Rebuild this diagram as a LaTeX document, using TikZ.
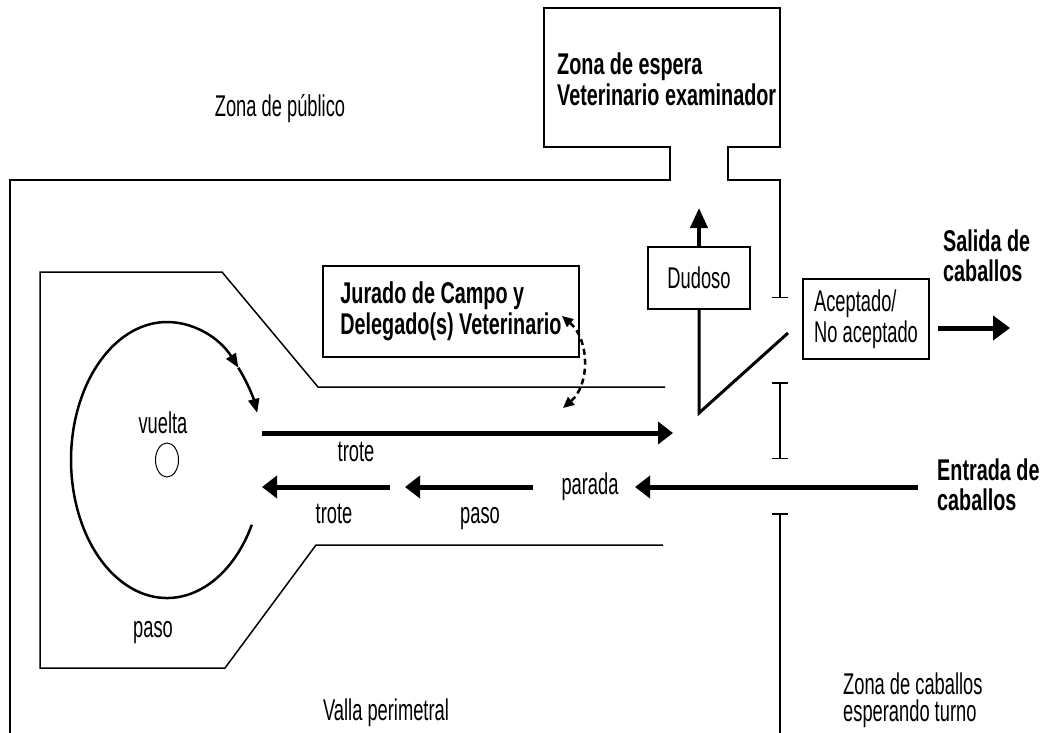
\documentclass[tikz,border=0pt]{standalone}
\usepackage{fontspec}
\setmainfont{Liberation Sans}[FakeStretch=0.61]
\newfontfamily\headfont{Liberation Sans}[FakeStretch=0.66]
\usetikzlibrary{arrows.meta,shapes.geometric}

\newcommand{\lblsize}{\fontsize{30}{31}\selectfont}
\newcommand{\hdrsize}{\headfont\bfseries\fontsize{30}{31}\selectfont}

\tikzset{
  wall/.style={line width=1.5pt},
  flow/.style={line width=5pt, -{Triangle[length=15pt,width=22pt]}},
  lap/.style={line width=2.5pt, -{Triangle[length=14pt,width=11pt]}},
  boxnode/.style={draw, line width=1.5pt, inner sep=0pt},
  lbl/.style={inner sep=0pt, font=\lblsize},
  hdr/.style={inner sep=0pt, align=left, font=\hdrsize},
}

\begin{document}
\begin{tikzpicture}[x=1pt, y=-1pt, >=Triangle]
    \useasboundingbox (0,0) rectangle (1046,733);

    % perimeter fence and waiting zone
    \draw[wall, -{Bar[width=16pt]}] (10,733) -- (10,180) -- (670,180) -- (670,147) -- (544,147)
        -- (544,8) -- (780,8) -- (780,147) -- (728,147) -- (728,180) -- (780,180) -- (780,298);
    \draw[wall, {Bar[width=16pt]}-{Bar[width=16pt]}] (780,382) -- (780,459);
    \draw[wall, {Bar[width=16pt]}-] (780,513) -- (780,733);

    % inspection lane
    \draw[wall] (665,387) -- (318,387) -- (222,272) -- (40,272) -- (40,668) -- (225,668) -- (316,545) -- (663,545);

    % boxes
    \node[boxnode, lbl, minimum width=102pt, minimum height=62pt] (dud) at (699,278) {Dudoso};
    \node[boxnode, lbl, align=left, minimum width=126pt, minimum height=80pt] (acc) at (866,319) {Aceptado/\\No aceptado};
    \node[boxnode, hdr, minimum width=256pt, minimum height=91pt] (jur) at (451,311.5) {Jurado de Campo y\\Delegado(s) Veterinario};
    \node[hdr, anchor=west] (wait) at (557,79.5) {Zona de espera\\Veterinario examinador};
    \node[hdr, anchor=west, font=\headfont\bfseries\fontsize{30}{30}\selectfont] (exit) at (943,256) {Salida de\\caballos};
    \node[hdr, anchor=west, font=\headfont\bfseries\fontsize{30}{30}\selectfont] (entry) at (937,485) {Entrada de\\caballos};

    % free labels
    \node[lbl, anchor=base] (pub) at (280,117) {Zona de público};
    \node[lbl, anchor=base] (fence) at (386,720) {Valla perimetral};
    \node[lbl, anchor=west, align=left, font=\fontsize{30}{27}\selectfont] (queue) at (843,700) {Zona de caballos\\esperando turno};
    \node[lbl, anchor=base] (vuelta) at (163,433) {vuelta};
    \node[lbl, anchor=base] (lap) at (153,637) {paso};
    \node[lbl, anchor=base] (trot1) at (356,461) {trote};
    \node[lbl, anchor=base] (trot2) at (334,523) {trote};
    \node[lbl, anchor=base] (walk) at (480,523) {paso};
    \node[lbl, anchor=base] (stop) at (590,494) {parada};
    \node[draw, ellipse, line width=1pt, inner sep=0pt, minimum width=23pt, minimum height=34pt] (pole) at (167,460) {};

    % arrow ends
    \coordinate (t1a) at (262,433);
    \coordinate (t1b) at (673,433);
    \coordinate (inA) at (918,487);
    \coordinate (inB) at (635,487);
    \coordinate (wA) at (533,487);
    \coordinate (wB) at (405,487);
    \coordinate (t2a) at (390,487);
    \coordinate (t2b) at (262,487);
    \coordinate (dudtip) at (699,208);
    \coordinate (gate1) at (699,413);
    \coordinate (gate2) at (788,333);
    \coordinate (outA) at (938,328);
    \coordinate (outB) at (1010,328);
    \coordinate (jurA) at (562,316);
    \coordinate (jurB) at (563,408);
    \coordinate (ringS) at (251.8,524.8);
    \coordinate (ringM) at (238.3,367.7);

    % flows
    \draw[flow] (t1a) -- (t1b);
    \draw[flow] (inA) -- (inB);
    \draw[flow] (wA) -- (wB);
    \draw[flow] (t2a) -- (t2b);
    \draw[flow, -{Triangle[length=17pt,width=24pt]}] (outA) -- (outB);
    \draw[line width=4pt, -{Triangle[length=20pt,width=17pt]}] (dud.north) -- (dudtip);
    \draw[line width=3pt] (dud.south) -- (gate1) -- (gate2);

    % circle
    \draw[lap] (ringS) arc[start angle=28, end angle=318, x radius=96, y radius=138];
    \draw[lap] (ringM) arc[start angle=318, end angle=340, x radius=96, y radius=138];

    % judges
    \draw[line width=2.5pt, dash pattern=on 6pt off 4pt, {Triangle[length=11pt,width=10pt]}-{Triangle[length=11pt,width=10pt]}]
        (jurA) .. controls (590,340) and (590,385) .. (jurB);
\end{tikzpicture}
\end{document}
